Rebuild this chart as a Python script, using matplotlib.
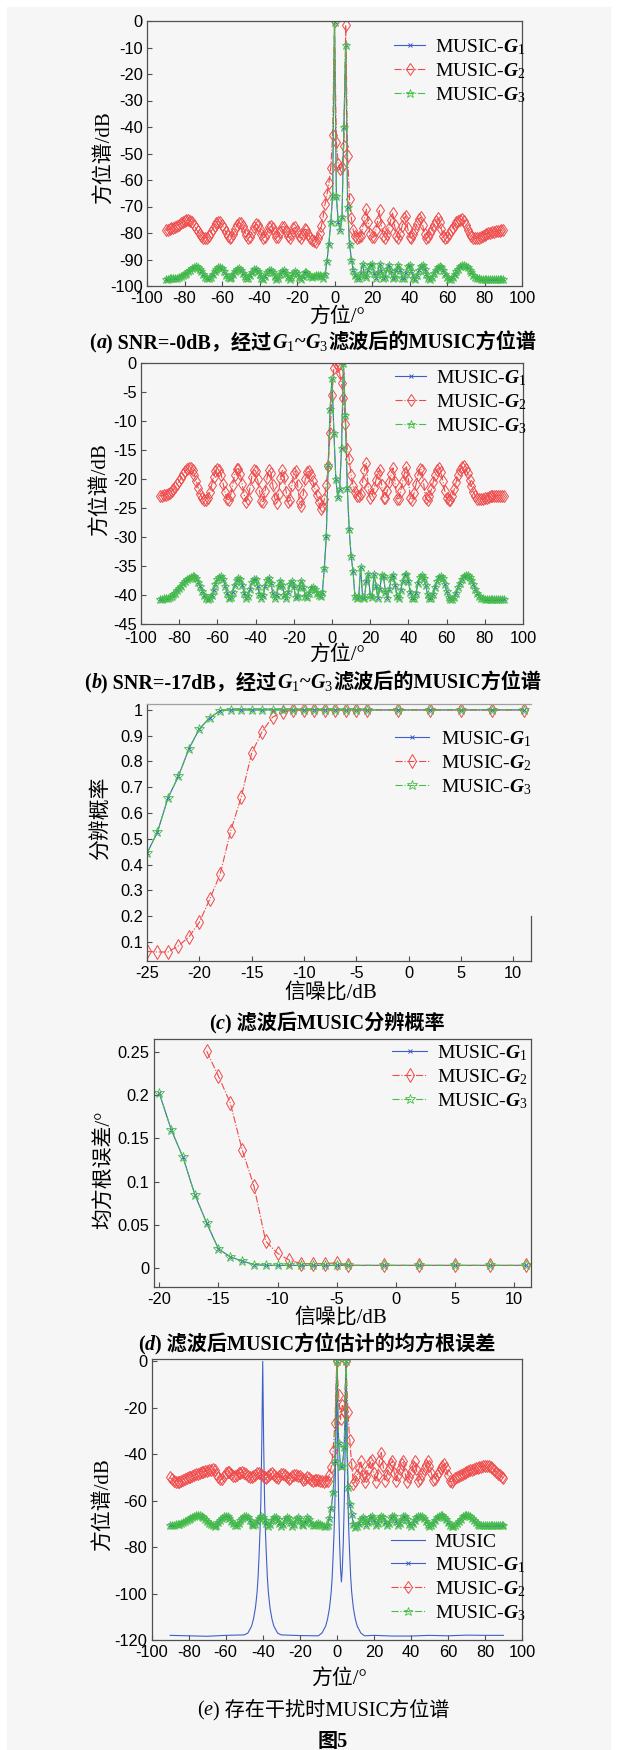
import matplotlib
matplotlib.use("Agg")
import matplotlib.pyplot as plt
from matplotlib.ticker import MultipleLocator, FuncFormatter
from matplotlib.patches import Rectangle

plt.rcParams["mathtext.fontset"] = "custom"
plt.rcParams["mathtext.rm"] = "Liberation Serif"
plt.rcParams["mathtext.it"] = "Liberation Serif:italic"
plt.rcParams["mathtext.bf"] = "Liberation Serif:bold"
plt.rcParams["mathtext.bfit"] = "Liberation Serif:italic:bold"

# ---------------- data ----------------
ANGLES = list(range(-90, 91))

A_G2 = [
    -79.0, -78.8, -78.5, -78.3, -78.0, -77.6, -77.2, -76.8, -76.3, -75.9,
    -75.5, -75.2, -75.0, -75.3, -76.0, -77.0, -78.2, -79.4, -80.5, -81.3,
    -81.8, -82.0, -81.7, -81.0, -79.8, -78.4, -77.2, -76.2, -75.7, -75.9,
    -76.8, -78.2, -79.7, -81.0, -81.8, -81.5, -80.3, -78.6, -77.0, -76.1,
    -76.3, -77.5, -79.2, -80.8, -81.8, -81.5, -79.8, -77.9, -76.7, -76.9,
    -78.4, -80.2, -81.7, -81.6, -79.9, -77.9, -77.2, -78.2, -80.0, -81.6,
    -81.4, -79.5, -77.7, -77.6, -79.1, -81.0, -81.9, -80.5, -78.3, -77.9,
    -79.3, -81.3, -82.0, -80.5, -78.6, -78.7, -80.2, -81.7, -82.6, -83.1,
    -83.3, -82.0, -80.0, -77.4, -73.5, -69.0, -65.4, -61.3, -55.5, -43.0,
    0.0, -45.5, -54.0, -56.0, -55.0, -47.0, -1.5, -51.0, -67.0, -74.5,
    -79.0, -81.0, -81.8, -81.6, -81.0, -78.0, -74.5, -71.0, -76.0, -80.5,
    -81.5, -81.6, -79.0, -75.5, -71.5, -77.0, -81.0, -81.8, -80.5, -78.0,
    -75.0, -72.5, -77.0, -81.0, -82.0, -80.5, -77.5, -74.5, -73.6, -78.0,
    -81.5, -82.0, -80.5, -78.5, -76.5, -74.8, -74.0, -77.0, -80.5, -82.0,
    -81.5, -80.0, -78.4, -76.8, -75.3, -74.5, -75.8, -78.5, -81.0, -82.0,
    -81.6, -80.5, -78.8, -78.0, -77.0, -76.0, -75.3, -75.0, -74.9, -75.5,
    -77.0, -78.8, -80.3, -81.3, -81.8, -82.0, -82.0, -81.8, -81.4, -81.0,
    -80.7, -80.4, -80.1, -79.9, -79.7, -79.5, -79.4, -79.2, -79.1, -79.0,
    -79.0]

A_G1 = [
    -97.2, -97.2, -97.1, -97.1, -97.0, -96.9, -96.8, -96.6, -96.3, -96.0,
    -95.6, -95.1, -94.5, -93.8, -93.2, -92.8, -92.6, -92.8, -93.5, -94.5,
    -95.6, -96.5, -97.0, -97.1, -96.6, -95.6, -94.5, -93.5, -92.9, -92.8,
    -93.3, -94.4, -95.7, -96.7, -97.1, -96.7, -95.6, -94.3, -93.4, -93.2,
    -93.8, -95.0, -96.3, -97.1, -97.0, -95.9, -94.6, -93.7, -93.5, -94.2,
    -95.6, -96.8, -97.2, -96.3, -94.9, -93.9, -93.8, -94.8, -96.3, -97.2,
    -96.8, -95.3, -94.2, -94.0, -95.1, -96.6, -97.3, -96.5, -95.0, -94.3,
    -95.0, -96.6, -97.3, -96.3, -94.8, -94.6, -95.6, -96.4, -96.5, -96.2,
    -95.9, -95.8, -96.0, -96.4, -96.8, -95.5, -90.5, -84.0, -76.0, -66.0,
    -0.3, -66.0, -76.0, -79.0, -74.0, -40.0, -9.0, -70.0, -84.0, -90.0,
    -94.0, -96.0, -96.8, -97.0, -95.0, -91.6, -96.0, -96.5, -94.0, -91.9,
    -91.7, -95.0, -97.0, -95.0, -91.8, -94.5, -97.0, -96.5, -93.5, -92.0,
    -94.5, -97.0, -96.5, -93.8, -92.0, -94.0, -96.8, -97.0, -95.0, -92.5,
    -92.0, -94.5, -96.8, -97.2, -96.0, -94.0, -92.6, -92.2, -93.5, -95.5,
    -97.0, -97.3, -96.6, -95.2, -93.8, -92.8, -92.4, -92.8, -94.0, -95.5,
    -96.6, -97.2, -97.2, -96.6, -95.6, -94.5, -93.4, -92.6, -92.2, -92.1,
    -92.4, -93.0, -93.9, -94.9, -95.8, -96.5, -96.9, -97.1, -97.2, -97.3,
    -97.3, -97.3, -97.3, -97.2, -97.2, -97.2, -97.2, -97.2, -97.2, -97.2,
    -97.2]
A_G3 = list(A_G1)  # coincides with G1 in the picture

B_G2 = [
    -22.9, -22.9, -22.8, -22.7, -22.6, -22.4, -22.1, -21.8, -21.4, -20.9,
    -20.4, -19.8, -19.2, -18.7, -18.3, -18.1, -18.1, -18.5, -19.3, -20.4,
    -21.6, -22.6, -23.3, -23.6, -23.6, -23.2, -22.3, -21.0, -19.7, -18.7,
    -18.3, -18.4, -19.3, -20.8, -22.3, -23.4, -23.6, -22.7, -21.0, -19.3,
    -18.3, -18.2, -19.1, -20.9, -22.7, -23.9, -23.4, -21.6, -19.6, -18.4,
    -18.6, -20.0, -22.0, -23.8, -23.9, -22.0, -19.8, -18.4, -18.9, -21.0,
    -23.3, -24.1, -22.5, -19.8, -18.5, -19.6, -22.2, -24.0, -23.6, -21.0,
    -18.9, -18.6, -21.0, -24.0, -24.6, -22.5, -20.0, -18.8, -18.7, -19.3,
    -20.4, -21.6, -22.8, -24.0, -25.2, -24.7, -23.5, -21.0, -17.8, -12.1,
    -5.5, -0.8, 0.0, -0.6, -1.8, -3.5, -6.0, -10.5, -14.8, -16.5,
    -19.3, -21.2, -22.3, -22.9, -23.0, -22.5, -20.5, -18.5, -17.2, -21.5,
    -23.2, -22.8, -21.6, -20.2, -18.9, -18.4, -21.0, -23.3, -23.2, -22.0,
    -20.6, -19.2, -18.1, -20.5, -23.4, -23.4, -22.0, -20.4, -18.9, -17.9,
    -20.0, -23.3, -23.6, -22.4, -20.9, -19.3, -18.2, -18.5, -20.8, -23.3,
    -23.7, -23.0, -21.8, -20.5, -19.3, -18.4, -18.1, -18.8, -20.3, -22.0,
    -23.2, -23.7, -23.6, -22.9, -21.8, -20.5, -19.3, -18.4, -17.9, -17.8,
    -18.2, -19.0, -20.1, -21.2, -22.2, -22.9, -23.4, -23.5, -23.5, -23.4,
    -23.3, -23.2, -23.1, -23.0, -23.0, -22.9, -22.9, -22.9, -22.9, -22.9,
    -22.9]

B_G1 = [
    -40.7, -40.7, -40.6, -40.6, -40.5, -40.4, -40.2, -39.9, -39.6, -39.2,
    -38.8, -38.4, -38.0, -37.6, -37.3, -37.0, -36.9, -36.8, -36.8, -37.1,
    -37.7, -38.5, -39.3, -40.0, -40.5, -40.7, -40.6, -40.0, -39.1, -38.1,
    -37.3, -36.9, -36.8, -37.3, -38.4, -39.6, -40.5, -40.4, -39.4, -38.2,
    -37.4, -37.1, -37.3, -38.3, -39.6, -40.5, -40.2, -39.0, -37.8, -37.2,
    -37.3, -38.4, -39.8, -40.6, -40.0, -38.5, -37.4, -37.0, -38.0, -39.7,
    -40.6, -40.0, -38.4, -37.5, -38.3, -40.0, -40.6, -39.5, -38.1, -37.6,
    -38.5, -40.4, -40.2, -38.6, -37.5, -38.6, -40.2, -40.4, -39.6, -38.8,
    -38.6, -39.0, -39.6, -40.0, -40.2, -39.4, -35.3, -29.9, -17.5, -8.0,
    -2.6, -12.0, -20.0, -23.1, -21.7, -14.7, 0.0, -9.0, -21.5, -28.7,
    -33.2, -35.9, -40.2, -40.5, -40.3, -35.1, -40.3, -40.5, -37.5, -36.3,
    -40.0, -40.4, -36.4, -38.5, -40.5, -39.0, -36.6, -36.8, -39.5, -40.5,
    -39.0, -37.0, -36.5, -38.2, -40.2, -40.6, -39.2, -37.5, -36.6, -36.4,
    -37.6, -39.5, -40.5, -40.6, -39.6, -38.0, -36.9, -36.5, -37.0, -38.3,
    -39.8, -40.6, -40.6, -39.8, -38.6, -37.5, -36.9, -36.7, -37.1, -38.1,
    -39.3, -40.3, -40.7, -40.7, -40.3, -39.6, -38.7, -37.9, -37.2, -36.8,
    -36.6, -36.6, -36.9, -37.4, -38.1, -38.9, -39.6, -40.2, -40.5, -40.6,
    -40.7, -40.7, -40.7, -40.7, -40.7, -40.7, -40.7, -40.7, -40.7, -40.7,
    -40.7]
B_G3 = list(B_G1)

C_SNR = [-25, -24, -23, -22, -21, -20, -19, -18, -17, -16, -15, -14, -13,
         -12, -11, -10, -9, -8, -7, -6, -5, -4, -1, 2, 5, 8, 11]
C_G1 = [0.444, 0.526, 0.658, 0.742, 0.849, 0.926, 0.970, 0.997, 1.0, 1.0,
        1.0, 1.0, 1.0, 1.0, 1.0, 1.0, 1.0, 1.0, 1.0, 1.0, 1.0, 1.0,
        1.0, 1.0, 1.0, 1.0, 1.0]
C_G2 = [0.063, 0.061, 0.061, 0.085, 0.119, 0.176, 0.266, 0.364, 0.531,
        0.661, 0.832, 0.916, 0.972, 0.991, 1.0, 1.0, 1.0, 1.0, 1.0, 1.0,
        1.0, 1.0, 1.0, 1.0, 1.0, 1.0, 1.0]
C_G3 = list(C_G1)

D_SNR = [-20, -19, -18, -17, -16, -15, -14, -13, -12, -11, -10, -9, -8,
         -7, -6, -5, -4, -1, 2, 5, 8, 11]
D_G1 = [0.202, 0.160, 0.128, 0.085, 0.052, 0.022, 0.013, 0.008, 0.004,
        0.003, 0.003, 0.003, 0.003, 0.003, 0.003, 0.003, 0.003, 0.003,
        0.003, 0.003, 0.003, 0.003]
D_G2_SNR = [-16, -15, -14, -13, -12, -11, -10, -9, -8, -7, -6, -5, -4,
            -1, 2, 5, 8, 11]
D_G2 = [0.251, 0.222, 0.191, 0.137, 0.095, 0.031, 0.017, 0.009, 0.005,
        0.005, 0.005, 0.006, 0.003, 0.003, 0.003, 0.003, 0.003, 0.003]
D_G3 = list(D_G1)

E_MUSIC_ANG = [-90, -80, -70, -60, -55, -50, -48, -46, -45, -44, -43.5, -43,
               -42.5, -42, -41.5, -41, -40.5, -40, -39.5, -39, -38.5, -38,
               -37.5, -37, -36.5, -36, -35, -34, -32, -30, -20, -10, -8,
               -6, -5, -4, -3.5, -3, -2.5, -2, -1.5, -1, -0.5, 0, 0.5, 1,
               1.5, 2, 2.5, 3, 3.5, 4, 4.5, 5, 5.5, 6, 6.5, 7, 7.5, 8, 8.5,
               9, 10, 11, 13, 15, 20, 30, 40, 50, 60, 70, 80, 90]
E_MUSIC = [-118.0, -118.2, -118.4, -118.0, -117.9, -117.8, -117.0, -114.0,
           -111.0, -106.5, -103.0, -99.0, -93.0, -84.0, -74.0, -60.0, -35.0,
           0.0, -35.0, -60.0, -74.0, -84.0, -93.0, -99.0, -103.0, -106.5,
           -111.0, -114.0, -117.0, -117.8, -118.1, -118.2, -117.0, -114.0,
           -111.0, -106.5, -103.0, -99.0, -93.0, -84.0, -74.0, -60.0, -35.0,
           0.0, -38.0, -62.0, -78.0, -89.0, -95.0, -89.0, -78.0, -62.0,
           -38.0, 0.0, -35.0, -60.0, -74.0, -84.0, -93.0, -99.0, -103.0,
           -106.5, -111.0, -114.0, -117.0, -118.2, -118.0, -118.3, -118.3,
           -118.0, -118.2, -117.9, -118.0, -118.0]

E_G2 = [
    -50.0, -50.8, -51.5, -51.9, -52.1, -51.9, -51.5, -51.0, -50.6, -50.2,
    -49.9, -49.6, -49.3, -49.0, -48.7, -48.4, -48.1, -47.8, -47.5, -47.3,
    -47.1, -46.8, -46.6, -46.4, -47.0, -48.5, -50.0, -50.8, -50.7, -49.3,
    -48.0, -47.5, -47.8, -48.5, -49.3, -49.5, -48.8, -48.2, -48.0, -47.8,
    -47.9, -48.5, -49.3, -49.8, -50.0, -49.5, -48.8, -48.3, -48.0, -48.6,
    -49.3, -50.0, -50.3, -49.5, -48.6, -48.3, -48.8, -49.6, -50.2, -49.5,
    -48.7, -48.4, -49.0, -49.8, -50.5, -50.2, -49.3, -48.8, -49.0, -49.3,
    -49.3, -50.2, -51.0, -50.6, -49.8, -50.2, -50.9, -51.4, -51.2, -50.9,
    -51.2, -51.5, -51.7, -51.8, -51.6, -51.4, -49.0, -45.7, -38.6, -26.4,
    0.0, -14.3, -25.0, -18.6, -21.4, 0.0, -22.0, -34.0, -44.0, -52.9,
    -51.5, -49.0, -46.0, -43.0, -49.5, -52.0, -49.5, -46.5, -43.5, -42.5,
    -48.0, -52.0, -49.0, -43.0, -39.3, -45.0, -51.5, -49.0, -46.5, -44.0,
    -43.0, -48.0, -51.5, -49.0, -46.5, -44.0, -43.0, -48.5, -52.0, -50.0,
    -47.5, -45.0, -43.0, -46.5, -51.5, -50.5, -48.5, -46.5, -44.5, -43.0,
    -45.0, -48.0, -51.0, -50.5, -49.0, -47.5, -46.0, -45.0, -44.3, -46.0,
    -49.0, -51.5, -52.0, -51.0, -50.3, -49.7, -49.2, -48.8, -48.4, -48.0,
    -47.6, -47.3, -47.0, -46.7, -46.4, -46.1, -45.8, -45.5, -45.3, -45.1,
    -45.0, -44.9, -45.0, -45.4, -46.0, -46.8, -47.6, -48.4, -49.1, -49.7,
    -50.2]

E_G1 = [
    -70.4, -70.4, -70.3, -70.2, -70.1, -69.9, -69.6, -69.3, -68.9, -68.5,
    -68.1, -67.6, -67.1, -66.7, -66.3, -66.1, -66.1, -66.4, -67.0, -67.8,
    -68.7, -69.5, -70.2, -70.6, -70.7, -70.3, -69.4, -68.3, -67.3, -66.7,
    -66.4, -66.6, -67.4, -68.6, -69.8, -70.5, -70.6, -69.8, -68.5, -67.3,
    -66.6, -66.5, -67.2, -68.5, -69.9, -70.6, -70.1, -68.8, -67.4, -66.7,
    -67.0, -68.3, -69.8, -70.7, -70.1, -68.5, -67.1, -66.9, -68.1, -69.8,
    -70.7, -69.9, -68.0, -67.0, -67.5, -69.3, -70.7, -70.0, -68.0, -67.1,
    -68.0, -70.0, -70.6, -69.0, -67.1, -68.0, -69.8, -70.6, -70.5, -70.0,
    -69.8, -70.0, -70.4, -70.8, -71.0, -70.5, -67.5, -63.0, -56.4, -43.0,
    0.0, -35.0, -45.0, -45.0, -37.0, 0.0, -54.3, -61.4, -65.7, -70.0,
    -71.4, -70.8, -69.5, -68.0, -67.2, -68.5, -70.5, -69.2, -67.0, -66.5,
    -68.5, -70.5, -69.5, -67.5, -66.4, -67.0, -69.0, -70.6, -69.6, -67.6,
    -66.5, -66.8, -68.8, -70.5, -69.8, -67.8, -66.6, -66.5, -68.0, -70.0,
    -70.7, -69.8, -68.3, -67.0, -66.4, -66.4, -66.5, -67.3, -68.7, -70.0,
    -70.7, -70.5, -69.5, -68.3, -67.2, -66.5, -66.2, -66.3, -67.0, -68.1,
    -69.3, -70.3, -70.8, -70.9, -70.5, -69.7, -68.7, -67.7, -66.8, -66.2,
    -66.0, -66.2, -66.8, -67.6, -68.5, -69.3, -69.9, -70.3, -70.5, -70.6,
    -70.6, -70.6, -70.5, -70.5, -70.5, -70.5, -70.5, -70.5, -70.5, -70.5,
    -70.5]
E_G3 = list(E_G1)

LABEL_G = [r"MUSIC-$\mathbfit{G}_1$", r"MUSIC-$\mathbfit{G}_2$", r"MUSIC-$\mathbfit{G}_3$"]
LABEL_MUSIC = "MUSIC"

# ---------------- layout helpers ----------------
W, H = 617, 1750
fig = plt.figure(figsize=(W / 100, H / 100), dpi=100, facecolor="white")
fig.patches.append(Rectangle((7 / W, 0), (610 - 7) / W, 1 - 7 / H,
                             transform=fig.transFigure, color="#f6f6f6",
                             zorder=-10))

BLUE = "#3f5fc8"
RED = "#f04848"
GREEN = "#44c044"
SPINE = "#505050"
MIX = ["Liberation Serif", "Noto Sans CJK SC"]
TICK_SIZE = 11.8


def make_ax(l, r, t, b, xpad=3.8):
    ax = fig.add_axes([l / W, 1 - b / H, (r - l) / W, (b - t) / H])
    ax.set_facecolor("none")
    for s in ax.spines.values():
        s.set_color(SPINE)
        s.set_linewidth(0.9)
    ax.tick_params(direction="in", length=3.8, width=0.8, color=SPINE,
                   labelsize=TICK_SIZE, pad=3.0, top=False, right=False)
    ax.tick_params(axis="x", pad=xpad)
    fmt = FuncFormatter(lambda v, p: f"{v:g}")
    ax.xaxis.set_major_formatter(fmt)
    ax.yaxis.set_major_formatter(fmt)
    return ax


def set_tick_font(ax):
    for lab in ax.get_xticklabels() + ax.get_yticklabels():
        lab.set_family("Liberation Sans")


def ftext(x, y, s, rot=0, size=15, weight="normal"):
    fig.text(x / W, 1 - y / H, s, ha="center", va="center", rotation=rot,
             family=MIX, fontsize=size, fontweight=weight)


def rich(xc, yc, segs, size=14.5, weight="bold"):
    r = fig.canvas.get_renderer()
    objs = []
    for s, style in segs:
        objs.append(fig.text(0, 0, s, family=MIX, fontsize=size,
                             fontweight=weight, fontstyle=style,
                             ha="left", va="baseline"))
    widths = [t.get_window_extent(r).width for t in objs]
    x = xc - sum(widths) / 2
    yb = yc + 0.36 * size * 100 / 72
    for t, w in zip(objs, widths):
        t.set_position((x / W, 1 - yb / H))
        x += w


def legend(ax, handles, labels, xl, yt, hl=1.6, pad=0.5):
    ax.legend(handles, labels, loc="upper left",
              bbox_to_anchor=(xl / W, 1 - yt / H),
              bbox_transform=fig.transFigure, frameon=False, borderpad=0,
              borderaxespad=0, handlelength=hl, handletextpad=pad,
              labelspacing=0.22, prop={"family": "Liberation Serif", "size": 14})


def st(which, big=False):
    if which == 1:
        return dict(color=BLUE, lw=0.8, ls="-", marker="x",
                    ms=3.5 if big else 3, mew=0.7)
    if which == 2:
        return dict(color=RED, lw=0.8, ls="-.", marker="d",
                    ms=7.5 if big else 6.5, mfc="none", mew=0.7)
    return dict(color=GREEN, lw=0.8, ls="-.", marker="*",
                ms=7.5 if big else 6.3, mfc="none", mew=0.6)


# ---------------- (a) ----------------
ax = make_ax(147, 522, 21, 286)
h1, = ax.plot(ANGLES, A_G1, **st(1))
h2, = ax.plot(ANGLES, A_G2, **st(2))
h3, = ax.plot(ANGLES, A_G3, **st(3))
ax.set_xlim(-100, 100)
ax.set_ylim(-100, 0)
ax.xaxis.set_major_locator(MultipleLocator(20))
ax.yaxis.set_major_locator(MultipleLocator(10))
set_tick_font(ax)
legend(ax, [h1, h2, h3], LABEL_G, 394, 37)
ftext(104, 158, "方位谱/dB", rot=90)
ftext(337, 317, "方位/°")
rich(313, 341, [("(", "normal"), ("a", "italic"), (") SNR=-0dB，经过", "normal"),
                (r"$\mathbfit{G}_1$", "normal"), ("~", "normal"),
                (r"$\mathbfit{G}_3$", "normal"), ("滤波后的MUSIC方位谱", "normal")])

# ---------------- (b) ----------------
ax = make_ax(141, 523, 363, 624, xpad=5.2)
h1, = ax.plot(ANGLES, B_G1, **st(1))
h2, = ax.plot(ANGLES, B_G2, **st(2))
h3, = ax.plot(ANGLES, B_G3, **st(3))
ax.set_xlim(-100, 100)
ax.set_ylim(-45, 0)
ax.xaxis.set_major_locator(MultipleLocator(20))
ax.yaxis.set_major_locator(MultipleLocator(5))
set_tick_font(ax)
legend(ax, [h1, h2, h3], LABEL_G, 395, 368)
ftext(100, 490, "方位谱/dB", rot=90)
ftext(337, 655, "方位/°")
rich(313, 681, [("(", "normal"), ("b", "italic"), (") SNR=-17dB，经过", "normal"),
                (r"$\mathbfit{G}_1$", "normal"), ("~", "normal"),
                (r"$\mathbfit{G}_3$", "normal"), ("滤波后的MUSIC方位谱", "normal")])

# ---------------- (c) ----------------
ax = make_ax(147, 531, 704, 961)
h1, = ax.plot(C_SNR, C_G1, **st(1, True))
h2, = ax.plot(C_SNR, C_G2, **st(2, True))
h3, = ax.plot(C_SNR, C_G3, **st(3, True))
ax.set_xlim(-25, 11.7)
ax.set_ylim(0.026, 1.023)
ax.xaxis.set_major_locator(MultipleLocator(5))
ax.set_yticks([0.1, 0.2, 0.3, 0.4, 0.5, 0.6, 0.7, 0.8, 0.9, 1.0])
ax.spines["right"].set_bounds(0.026, 0.2)
ax.spines["top"].set_color("#a0a0a0")
set_tick_font(ax)
legend(ax, [h1, h2, h3], LABEL_G, 395, 729, hl=1.75, pad=0.6)
ftext(102, 818, "分辨概率", rot=90)
ftext(331, 993, "信噪比/dB")
rich(327, 1022, [("(", "normal"), ("c", "italic"), (") 滤波后MUSIC分辨概率", "normal")])

# ---------------- (d) ----------------
ax = make_ax(153.5, 531, 1039, 1287)
h1, = ax.plot(D_SNR, D_G1, **st(1, True))
h2, = ax.plot(D_G2_SNR, D_G2, **st(2, True))
h3, = ax.plot(D_SNR, D_G3, **st(3, True))
ax.set_xlim(-20.5, 11.46)
ax.set_ylim(-0.022, 0.265)
ax.xaxis.set_major_locator(MultipleLocator(5))
ax.yaxis.set_major_locator(MultipleLocator(0.05))
set_tick_font(ax)
legend(ax, [h1, h2, h3], LABEL_G, 392, 1043, hl=1.8, pad=0.5)
ftext(104, 1170, "均方根误差/°", rot=90)
ftext(341, 1318, "信噪比/dB")
rich(317, 1343, [("(", "normal"), ("d", "italic"),
                 (") 滤波后MUSIC方位估计的均方根误差", "normal")])

# ---------------- (e) ----------------
ax = make_ax(151.6, 522, 1359, 1640)
h0, = ax.plot(E_MUSIC_ANG, E_MUSIC, color=BLUE, lw=0.8)
h1, = ax.plot(ANGLES, E_G1, **st(1))
h2, = ax.plot(ANGLES, E_G2, **st(2))
h3, = ax.plot(ANGLES, E_G3, **st(3))
ax.set_xlim(-100, 100)
ax.set_ylim(-120, 1)
ax.xaxis.set_major_locator(MultipleLocator(20))
ax.yaxis.set_major_locator(MultipleLocator(20))
set_tick_font(ax)
legend(ax, [h0, h1, h2, h3], [LABEL_MUSIC] + LABEL_G, 391, 1533, hl=1.75, pad=0.5)
ftext(103, 1505, "方位谱/dB", rot=90)
ftext(339, 1679, "方位/°")
rich(323, 1708, [("(", "normal"), ("e", "italic"), (") 存在干扰时MUSIC方位谱", "normal")],
     weight="normal")
rich(333, 1740, [("图5", "normal")])

fig.savefig("out.png", dpi=100, facecolor="white")
